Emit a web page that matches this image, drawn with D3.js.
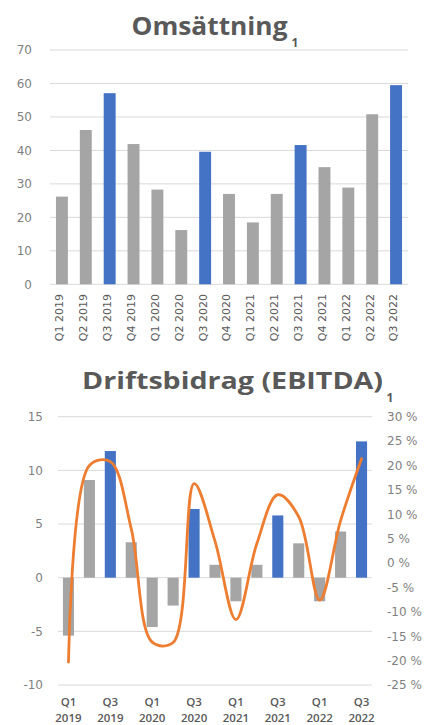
<!DOCTYPE html>
<html>
<head>
<meta charset="utf-8">
<script src="https://cdn.jsdelivr.net/npm/d3@7"></script>
<style>
  html, body { margin: 0; padding: 0; background: #fff; }
  svg { display: block; }
</style>
</head>
<body>
<svg id="chart" width="427" height="725"></svg>
<script>
// ---------- DATA ----------
const quarters = ["Q1 2019","Q2 2019","Q3 2019","Q4 2019","Q1 2020","Q2 2020","Q3 2020","Q4 2020",
                  "Q1 2021","Q2 2021","Q3 2021","Q4 2021","Q1 2022","Q2 2022","Q3 2022"];
const revenue = [26.2, 46.1, 57.1, 41.9, 28.3, 16.2, 39.6, 27.0, 18.5, 27.0, 41.6, 35.0, 28.9, 50.8, 59.5];
const ebitda  = [-5.4, 9.1, 11.8, 3.3, -4.6, -2.6, 6.4, 1.2, -2.2, 1.2, 5.8, 3.2, -2.2, 4.3, 12.7];
const marginPct = [-20.3, 20.0, 20.8, 7.0, -16.2, -16.3, 16.3, 4.5, -11.6, 4.0, 14.0, 9.5, -7.6, 8.7, 21.4];
const revenueTicks = [0, 10, 20, 30, 40, 50, 60, 70];
const ebitdaTicks = [-10, -5, 0, 5, 10, 15];
const pctTicks = [-25, -20, -15, -10, -5, 0, 5, 10, 15, 20, 25, 30];
const title1 = "Omsättning";
const title2 = "Driftsbidrag (EBITDA)";
const footnote = "1";

// ---------- STYLE ----------
const GRAY = "#A5A5A5", BLUE = "#4472C4", ORANGE = "#ED7D31";
const GRID = "#D9D9D9", TXT = "#595959", TICK = "#7F7F7F";
const barColor = q => q.startsWith("Q3") ? BLUE : GRAY;

const svg = d3.select("#chart");
svg.append("rect").attr("width", 427).attr("height", 725).attr("fill", "#fff");

// ---------- CHART 1: Omsättning ----------
{
  const x = d3.scaleBand().domain(quarters).range([50, 408]).paddingInner(0.5).paddingOuter(0.25);
  const y = d3.scaleLinear().domain([0, 70]).range([284.3, 50]);
  const g = svg.append("g");

  g.append("text").attr("x", 131.5).attr("y", 35)
    .attr("textLength", 156).attr("lengthAdjust", "spacingAndGlyphs")
    .attr("font-family", "Open Sans").attr("font-weight", 700).attr("font-size", 25)
    .attr("fill", TXT).text(title1);
  g.append("text").attr("x", 291.5).attr("y", 46.5)
    .attr("font-family", "Open Sans").attr("font-weight", 700).attr("font-size", 12)
    .attr("fill", TXT).text(footnote);

  g.selectAll("line.grid").data(revenueTicks).join("line")
    .attr("x1", 50).attr("x2", 408)
    .attr("y1", d => y(d)).attr("y2", d => y(d))
    .attr("stroke", GRID).attr("stroke-width", 1);

  g.selectAll("text.ytick").data(revenueTicks).join("text")
    .attr("x", 32).attr("y", d => y(d)).attr("dy", "0.36em")
    .attr("text-anchor", "end")
    .attr("font-family", "DejaVu Sans").attr("font-size", 12)
    .attr("fill", TICK).text(d => d);

  g.selectAll("rect.bar").data(quarters).join("rect")
    .attr("x", d => x(d)).attr("width", x.bandwidth())
    .attr("y", (d, i) => y(revenue[i]))
    .attr("height", (d, i) => y(0) - y(revenue[i]))
    .attr("fill", d => barColor(d));

  g.selectAll("text.xtick").data(quarters).join("text")
    .attr("transform", d => `translate(${x(d) + x.bandwidth() / 2 + 1.4},294) rotate(-90)`)
    .attr("text-anchor", "end")
    .attr("font-family", "DejaVu Sans").attr("font-size", 11)
    .attr("fill", TXT).text(d => d);
}

// ---------- CHART 2: Driftsbidrag ----------
{
  const x = d3.scaleBand().domain(quarters).range([58, 372]).paddingInner(0.47).paddingOuter(0.235);
  const y = d3.scaleLinear().domain([-10, 15]).range([685, 416.7]);
  const y2 = d3.scaleLinear().domain([-25, 30]).range([685, 416.7]);
  const g = svg.append("g");

  g.append("text").attr("x", 82).attr("y", 388.5)
    .attr("textLength", 301).attr("lengthAdjust", "spacingAndGlyphs")
    .attr("font-family", "Open Sans").attr("font-weight", 700).attr("font-size", 23)
    .attr("fill", TXT).text(title2);
  g.append("text").attr("x", 386.5).attr("y", 402)
    .attr("font-family", "Open Sans").attr("font-weight", 700).attr("font-size", 12)
    .attr("fill", TXT).text(footnote);

  g.selectAll("line.grid").data(ebitdaTicks).join("line")
    .attr("x1", 58).attr("x2", 372)
    .attr("y1", d => y(d)).attr("y2", d => y(d))
    .attr("stroke", GRID).attr("stroke-width", 1);

  g.selectAll("text.ytick").data(ebitdaTicks).join("text")
    .attr("x", 43).attr("y", d => y(d)).attr("dy", "0.36em")
    .attr("text-anchor", "end")
    .attr("font-family", "DejaVu Sans").attr("font-size", 12)
    .attr("fill", TICK).text(d => d);

  g.selectAll("text.y2tick").data(pctTicks).join("text")
    .attr("x", 387).attr("y", d => y2(d)).attr("dy", "0.36em")
    .attr("text-anchor", "start")
    .attr("font-family", "DejaVu Sans").attr("font-size", 12)
    .attr("fill", TICK).text(d => d + " %");

  g.selectAll("rect.bar").data(quarters).join("rect")
    .attr("x", d => x(d)).attr("width", x.bandwidth())
    .attr("y", (d, i) => y(Math.max(0, ebitda[i])))
    .attr("height", (d, i) => Math.abs(y(ebitda[i]) - y(0)))
    .attr("fill", d => barColor(d));

  const line = d3.line()
    .x((d, i) => x(quarters[i]) + x.bandwidth() / 2)
    .y(d => y2(d))
    .curve(d3.curveCatmullRom.alpha(0.5));
  g.append("path").datum(marginPct)
    .attr("d", line)
    .attr("fill", "none").attr("stroke", ORANGE).attr("stroke-width", 2.8)
    .attr("stroke-linecap", "round");

  const shown = quarters.filter((d, i) => i % 2 === 0);
  const xl = g.selectAll("text.xtick").data(shown).join("text")
    .attr("text-anchor", "middle")
    .attr("font-family", "Open Sans").attr("font-weight", 600).attr("font-size", 11.5)
    .attr("fill", TXT);
  xl.append("tspan").attr("x", d => x(d) + x.bandwidth() / 2).attr("y", 706).text(d => d.split(" ")[0]);
  xl.append("tspan").attr("x", d => x(d) + x.bandwidth() / 2).attr("y", 721.5).text(d => d.split(" ")[1]);
}
</script>
</body>
</html>
